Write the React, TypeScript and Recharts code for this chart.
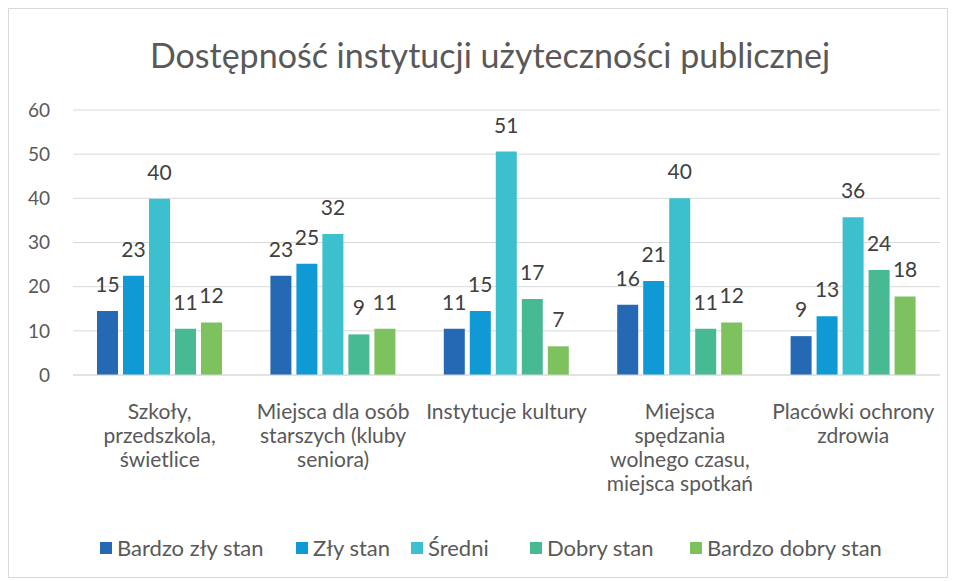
import React from "react"
import { Bar, BarChart, CartesianGrid, LabelList, XAxis, YAxis } from "recharts"

const categories = [
    "Szkoły,\nprzedszkola,\nświetlice",
    "Miejsca dla osób\nstarszych (kluby\nseniora)",
    "Instytucje kultury",
    "Miejsca\nspędzania\nwolnego czasu,\nmiejsca spotkań",
    "Placówki ochrony\nzdrowia",
]

const seriesNames = ["Bardzo zły stan", "Zły stan", "Średni", "Dobry stan", "Bardzo dobry stan"]
const seriesColors = ["#2569B4", "#0F9AD6", "#3CC0CD", "#48BA93", "#7DC25E"]

const bardzoZly = [14.5, 22.5, 10.5, 15.9, 8.8]
const zly = [22.5, 25.2, 14.5, 21.3, 13.3]
const sredni = [39.9, 31.9, 50.6, 40.0, 35.7]
const dobry = [10.5, 9.2, 17.2, 10.5, 23.8]
const bardzoDobry = [11.9, 10.5, 6.5, 11.9, 17.8]

const yTicks = [0, 10, 20, 30, 40, 50, 60]

const seriesValues = [bardzoZly, zly, sredni, dobry, bardzoDobry]

const data = categories.map((name, i) => {
    const row: Record<string, string | number> = { name }
    seriesNames.forEach((s, j) => {
        row[s] = seriesValues[j][i]
    })
    return row
})

const FONT = "Lato, 'Open Sans', sans-serif"

// legend item left edges (px, inside the frame)
const legendLeft = [91, 287, 402, 521, 681]

const CategoryTick = ({ x, y, payload }: any) => {
    const lines = String(payload.value).split("\n")
    return (
        <text x={x} y={y} textAnchor="middle" fill="#595959" fontSize={21} fontFamily={FONT}>
            {lines.map((line, i) => (
                <tspan key={i} x={x} y={y + 36 + i * 24}>
                    {line}
                </tspan>
            ))}
        </text>
    )
}

export default function App() {
    return (
        <div
            style={{
                position: "relative",
                width: 938,
                height: 568,
                border: "1px solid #d9d9d9",
                background: "#fff",
                fontFamily: FONT,
            }}
        >
            <div
                style={{
                    position: "absolute",
                    top: 25,
                    left: 0,
                    width: 962,
                    textAlign: "center",
                    fontSize: 34,
                    color: "#595959",
                }}
            >
                Dostępność instytucji użyteczności publicznej
            </div>
            <BarChart
                width={938}
                height={568}
                data={data}
                margin={{ top: 101, right: 7, left: 20, bottom: 0 }}
                barSize={21}
                barGap={5}
            >
                <CartesianGrid vertical={false} stroke="#d9d9d9" />
                <XAxis
                    dataKey="name"
                    height={202}
                    interval={0}
                    tickLine={false}
                    axisLine={{ stroke: "#d9d9d9" }}
                    tick={<CategoryTick />}
                />
                <YAxis
                    width={44}
                    domain={[0, 60]}
                    ticks={yTicks}
                    tickLine={false}
                    axisLine={false}
                    tickSize={0}
                    tickMargin={23}
                    tick={{ fill: "#595959", fontSize: 19, fontFamily: FONT }}
                />
                {seriesNames.map((s, j) => (
                    <Bar key={s} dataKey={s} fill={seriesColors[j]} isAnimationActive={false}>
                        <LabelList
                            dataKey={s}
                            position="top"
                            offset={19}
                            formatter={(v: any) => Math.round(Number(v))}
                            style={{ fill: "#404040", fontSize: 21, fontFamily: FONT }}
                        />
                    </Bar>
                ))}
            </BarChart>
            {seriesNames.map((s, j) => (
                <div
                    key={s}
                    style={{
                        position: "absolute",
                        top: 525,
                        left: legendLeft[j],
                        display: "flex",
                        alignItems: "center",
                        gap: 5,
                        fontSize: 22,
                        color: "#595959",
                        whiteSpace: "nowrap",
                    }}
                >
                    <span style={{ display: "inline-block", width: 12, height: 12, background: seriesColors[j] }} />
                    <span>{s}</span>
                </div>
            ))}
        </div>
    )
}
